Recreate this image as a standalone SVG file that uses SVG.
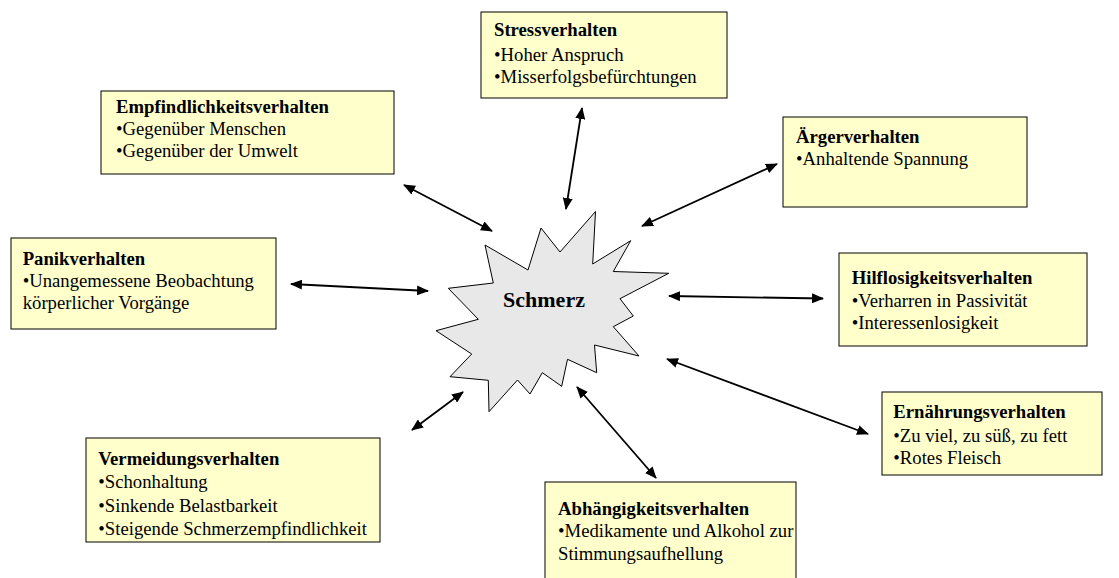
<svg xmlns="http://www.w3.org/2000/svg" width="1119" height="578" viewBox="0 0 1119 578">
<style>
.box{fill:#ffffcc;stroke:#000;stroke-width:1}
text{font-family:"Liberation Serif","Times New Roman",serif;font-size:18.7px;fill:#000}
.t{font-weight:bold}
.c{stroke:#000;stroke-width:1.8;fill:none;marker-start:url(#ah);marker-end:url(#ah)}
</style>
<defs>
<marker id="ah" markerUnits="userSpaceOnUse" markerWidth="12" markerHeight="10" refX="11" refY="5" orient="auto-start-reverse">
<path d="M0,0 L12,5 L0,10 z" fill="#000"/>
</marker>
</defs>
<rect width="1119" height="578" fill="#fff"/>
<g id="connectors">
<line class="c" x1="404" y1="185" x2="492" y2="231"/>
<line class="c" x1="582" y1="108" x2="566" y2="209"/>
<line class="c" x1="777" y1="164" x2="642" y2="226"/>
<line class="c" x1="291" y1="284" x2="428" y2="291"/>
<line class="c" x1="669" y1="296" x2="823" y2="298.5"/>
<line class="c" x1="667" y1="359" x2="868" y2="434"/>
<line class="c" x1="577" y1="387" x2="656" y2="478"/>
<line class="c" x1="463" y1="392" x2="412" y2="430"/>
</g>
<g id="schmerz">
<polygon points="485,245 528,270 541,228 560,252 595.5,211.5 592.7,264 630.7,240.7 613.3,271.5 668.7,273.3 620,298.7 633.3,316 613.3,326.7 639,356 594.5,345 596.7,372.7 567.5,359.3 561.7,386.3 542.3,372.7 530,394 517.5,380 489,411.7 488.3,380.3 450,376.7 471.7,354 436,330.7 478.3,319.3 448.3,288.3 493.3,283" fill="#e8e8e8" stroke="#000" stroke-width="1"/>
<text x="544" y="306.5" text-anchor="middle" class="t" style="font-size:22px">Schmerz</text>
</g>
<g id="stress">
<rect class="box" x="481" y="12" width="246" height="86"/>
<text x="494" y="36" class="t">Stressverhalten</text>
<text x="494" y="60.5">•Hoher Anspruch</text>
<text x="494" y="82.7">•Misserfolgsbefürchtungen</text>
</g>
<g id="empfindlichkeit">
<rect class="box" x="101" y="91" width="293" height="83"/>
<text x="116" y="113.3" class="t">Empfindlichkeitsverhalten</text>
<text x="116" y="135">•Gegenüber Menschen</text>
<text x="116" y="157.3">•Gegenüber der Umwelt</text>
</g>
<g id="aerger">
<rect class="box" x="783" y="117" width="244" height="90"/>
<text x="796" y="143.3" class="t">Ärgerverhalten</text>
<text x="796" y="165">•Anhaltende Spannung</text>
</g>
<g id="panik">
<rect class="box" x="11" y="238" width="265" height="91"/>
<text x="22.7" y="265" class="t">Panikverhalten</text>
<text x="22.7" y="287.3">•Unangemessene Beobachtung</text>
<text x="22.7" y="309">körperlicher Vorgänge</text>
</g>
<g id="hilflosigkeit">
<rect class="box" x="839" y="253" width="248" height="93"/>
<text x="851.7" y="284.3" class="t">Hilflosigkeitsverhalten</text>
<text x="851.7" y="306.7">•Verharren in Passivität</text>
<text x="851.7" y="329.3">•Interessenlosigkeit</text>
</g>
<g id="ernaehrung">
<rect class="box" x="882" y="392" width="220" height="83"/>
<text x="893.3" y="418.3" class="t">Ernährungsverhalten</text>
<text x="893.3" y="441.7">•Zu viel, zu süß, zu fett</text>
<text x="893.3" y="464">•Rotes Fleisch</text>
</g>
<g id="vermeidung">
<rect class="box" x="86" y="438" width="294" height="104"/>
<text x="98.3" y="465" class="t">Vermeidungsverhalten</text>
<text x="98.3" y="488.3">•Schonhaltung</text>
<text x="98.3" y="511.7">•Sinkende Belastbarkeit</text>
<text x="98.3" y="535">•Steigende Schmerzempfindlichkeit</text>
</g>
<g id="abhaengigkeit">
<rect class="box" x="545" y="482" width="251" height="110"/>
<text x="558" y="515" class="t">Abhängigkeitsverhalten</text>
<text x="558" y="537.3">•Medikamente und Alkohol zur</text>
<text x="558" y="560">Stimmungsaufhellung</text>
</g>
</svg>
